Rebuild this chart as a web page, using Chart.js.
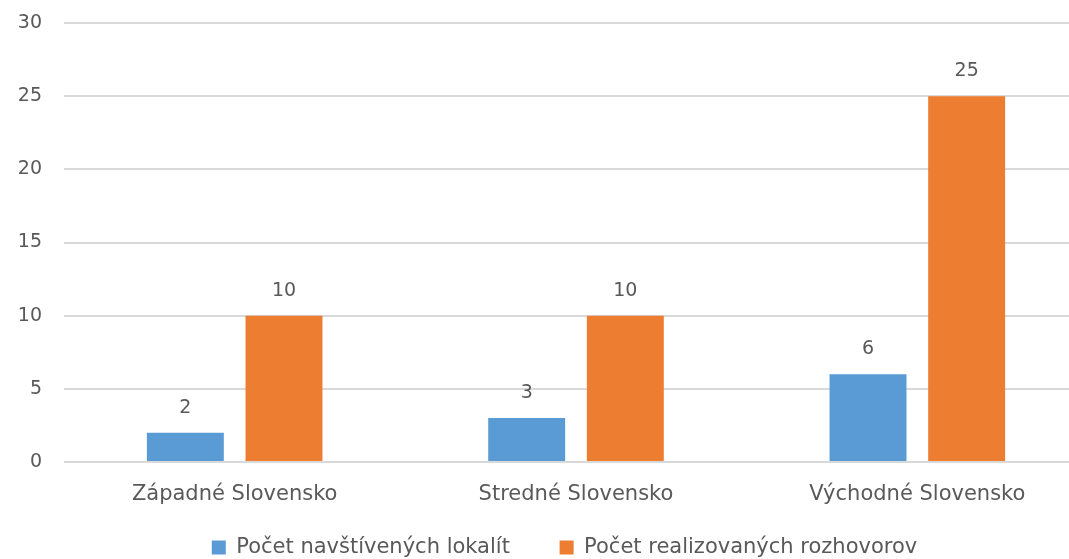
<!DOCTYPE html>
<html>
<head>
<meta charset="utf-8">
<script src="https://cdn.jsdelivr.net/npm/chart.js@4/dist/chart.umd.min.js"></script>
<style>
  html, body { margin: 0; padding: 0; background: #fff; }
  #wrap { width: 1069px; height: 559px; }
</style>
</head>
<body>
<div id="wrap"><canvas id="myChart"></canvas></div>
<script>
// chart data
const regions = ['Západné Slovensko', 'Stredné Slovensko', 'Východné Slovensko'];
const localities = [2, 3, 6];
const interviews = [10, 10, 25];
const seriesNames = ['Počet navštívených lokalít', 'Počet realizovaných rozhovorov'];
const yTicks = [0, 5, 10, 15, 20, 25, 30];

const textColor = '#595959';
const fontFamily = '"DejaVu Sans", Verdana, sans-serif';

// draw the value above each bar
const valueLabels = {
  id: 'valueLabels',
  afterDatasetsDraw(chart) {
    const c = chart.ctx;
    c.save();
    c.fillStyle = textColor;
    c.font = '19px ' + fontFamily;
    c.textAlign = 'center';
    c.textBaseline = 'middle';
    chart.data.datasets.forEach((ds, i) => {
      chart.getDatasetMeta(i).data.forEach((bar, j) => {
        c.fillText(ds.data[j], bar.x, bar.y - 25);
      });
    });
    c.restore();
  }
};

// the reference plot runs a little past the right edge: widen the x scale,
// and nudge the legend back to the visible centre
const layoutTweak = {
  id: 'layoutTweak',
  afterLayout(chart) {
    const x = chart.scales.x;
    x.right += 19;
    x.width += 19;
    x.configure();
    chart.legend.left += 30;
    chart.legend.right += 30;
  }
};

const ctx = document.getElementById('myChart').getContext('2d');
const myChart = new Chart(ctx, {
  type: 'bar',
  data: {
    labels: regions,
    datasets: [{
      label: seriesNames[0],
      data: localities,
      backgroundColor: '#5B9BD5',
      categoryPercentage: 0.578,
      barPercentage: 0.78
    }, {
      label: seriesNames[1],
      data: interviews,
      backgroundColor: '#ED7D31',
      categoryPercentage: 0.578,
      barPercentage: 0.78
    }]
  },
  options: {
    responsive: true,
    maintainAspectRatio: false,
    animation: false,
    layout: { padding: { top: 23, right: 0, left: 0, bottom: -9 } },
    scales: {
      x: {
        grid: { display: false },
        border: { display: false },
        ticks: { color: textColor, font: { family: fontFamily, size: 21 }, padding: 12 },
        afterFit: axis => { axis.height = 72; }
      },
      y: {
        min: 0,
        max: 30,
        afterBuildTicks: axis => { axis.ticks = yTicks.map(v => ({ value: v })); },
        afterFit: axis => { axis.paddingTop = 0; axis.paddingBottom = 0; axis.width = 64; },
        grid: { color: '#d9d9d9', lineWidth: 2, drawTicks: false },
        border: { display: false },
        ticks: { color: textColor, font: { family: fontFamily, size: 19 }, padding: 22 }
      }
    },
    plugins: {
      legend: {
        position: 'bottom',
        labels: {
          color: textColor,
          font: { family: fontFamily, size: 21 },
          boxWidth: 14,
          boxHeight: 14,
          padding: 3,
          generateLabels: chart => {
            const items = Chart.defaults.plugins.legend.labels.generateLabels(chart);
            items.forEach((it, i) => { if (i < items.length - 1) it.text += '       '; });
            return items;
          }
        }
      },
      tooltip: { enabled: false }
    }
  },
  plugins: [valueLabels, layoutTweak]
});
</script>
</body>
</html>
